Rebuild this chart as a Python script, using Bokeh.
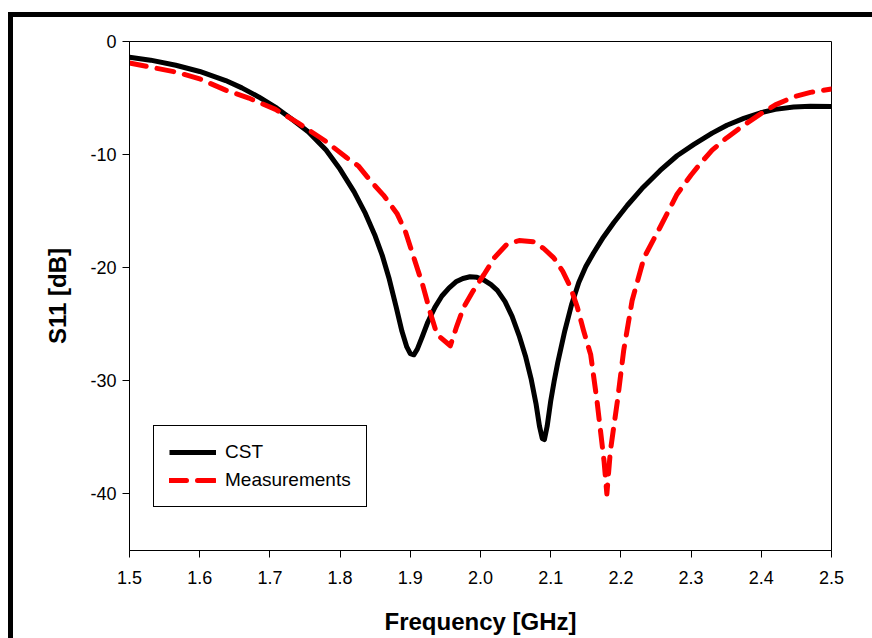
from bokeh.plotting import figure
from bokeh.models import Range1d, FixedTicker, PrintfTickFormatter, Legend, LegendItem
from bokeh.embed import file_html
from bokeh.resources import INLINE

# ---- data ----
freq_cst = [1.50, 1.53, 1.566, 1.60, 1.637, 1.66, 1.684, 1.71, 1.73, 1.755, 1.78, 1.80, 1.82, 1.836,
            1.85, 1.86, 1.87, 1.88, 1.888, 1.895, 1.90, 1.905, 1.91, 1.917, 1.925, 1.935, 1.945, 1.955,
            1.965, 1.975, 1.985, 1.995, 2.005, 2.015, 2.024, 2.035, 2.045, 2.055, 2.064, 2.072, 2.079,
            2.084, 2.088, 2.091, 2.095, 2.10, 2.105, 2.11, 2.12, 2.13, 2.14, 2.15, 2.161, 2.175, 2.19,
            2.209, 2.23, 2.256, 2.28, 2.304, 2.33, 2.351, 2.375, 2.399, 2.42, 2.446, 2.47, 2.50]
s11_cst = [-1.4, -1.65, -2.1, -2.65, -3.45, -4.1, -4.9, -5.9, -6.8, -8.0, -9.6, -11.3, -13.3, -15.2,
           -17.2, -18.9, -21.0, -23.5, -25.6, -27.0, -27.6, -27.7, -27.2, -26.1, -24.8, -23.5, -22.5, -21.8,
           -21.25, -20.95, -20.8, -20.85, -21.1, -21.5, -22.0, -23.0, -24.3, -26.0, -27.8, -29.8, -32.0,
           -34.0, -35.1, -35.2, -34.0, -31.8, -30.0, -28.4, -25.6, -23.2, -21.3, -19.9, -18.7, -17.3, -16.0,
           -14.5, -13.0, -11.4, -10.1, -9.1, -8.1, -7.4, -6.8, -6.3, -6.0, -5.8, -5.72, -5.75]

freq_meas = [1.50, 1.566, 1.60, 1.637, 1.67, 1.708, 1.74, 1.779, 1.81, 1.826, 1.843, 1.862, 1.881,
             1.893, 1.905, 1.918, 1.929, 1.938, 1.957, 1.966, 1.976, 1.99, 2.005, 2.02, 2.038, 2.055,
             2.076, 2.09, 2.104, 2.117, 2.128, 2.138, 2.147, 2.157, 2.166, 2.176, 2.180, 2.185, 2.195,
             2.204, 2.216, 2.233, 2.256, 2.280, 2.30, 2.313, 2.33, 2.351, 2.375, 2.399, 2.42, 2.446,
             2.47, 2.50]
s11_meas = [-1.9, -2.7, -3.3, -4.3, -5.0, -6.0, -7.2, -8.8, -10.3, -11.0, -12.3, -13.6, -15.2,
            -16.8, -19.1, -21.6, -24.1, -25.9, -26.9, -25.2, -23.5, -22.0, -20.6, -19.1, -17.9, -17.6,
            -17.7, -18.3, -19.1, -20.3, -21.7, -23.5, -25.6, -27.7, -31.8, -37.1, -40.0, -36.2, -31.8,
            -27.3, -22.9, -19.1, -16.4, -13.5, -11.8, -10.8, -9.6, -8.5, -7.4, -6.4, -5.6, -4.9,
            -4.5, -4.2]

x_ticks = [1.5, 1.6, 1.7, 1.8, 1.9, 2.0, 2.1, 2.2, 2.3, 2.4, 2.5]
y_ticks = [0, -10, -20, -30, -40]
series_names = ["CST", "Measurements"]

FONT = "Liberation Sans"

p = figure(width=872, height=638, output_backend="svg", toolbar_location=None,
           x_range=Range1d(1.5, 2.5), y_range=Range1d(-45, 0),
           min_border_left=129, min_border_right=41, min_border_top=41, min_border_bottom=88,
           background_fill_color="white", border_fill_color=None)
# thick outer frame of the whole figure: only its top and left edges fall inside the window
p.styles = {
    "background": ("linear-gradient(black, black) 8px 12px / 5px 100% no-repeat, "
                   "linear-gradient(black, black) 8px 12px / 100% 5px no-repeat, white"),
}
p.grid.visible = False
p.outline_line_color = "black"
p.outline_line_width = 1
p.outline_line_alpha = 1

for ax in (p.xaxis[0], p.yaxis[0]):
    ax.axis_line_color = "black"
    ax.axis_line_width = 1
    ax.major_tick_line_color = "black"
    ax.major_tick_out = 7
    ax.major_tick_in = 0
    ax.minor_tick_out = 0
    ax.minor_tick_in = 0
    ax.major_label_text_font = FONT
    ax.major_label_text_font_size = "18px"
    ax.major_label_text_color = "black"
    ax.axis_label_text_font = FONT
    ax.axis_label_text_font_size = "24px"
    ax.axis_label_text_font_style = "bold"
    ax.axis_label_text_color = "black"

p.xaxis.ticker = FixedTicker(ticks=x_ticks)
p.xaxis.formatter = PrintfTickFormatter(format="%.1f")
p.xaxis.axis_label = "Frequency [GHz]"
p.xaxis.major_label_standoff = 13
p.xaxis.axis_label_standoff = 21

p.yaxis.ticker = FixedTicker(ticks=y_ticks)
p.yaxis.formatter = PrintfTickFormatter(format="%d")
p.yaxis.axis_label = "S11 [dB]"
p.yaxis.major_label_standoff = 6
p.yaxis.axis_label_standoff = 16

r_cst = p.line(freq_cst, s11_cst, line_color="black", line_width=5, line_join="round")
r_meas = p.line(freq_meas, s11_meas, line_color="red", line_width=5, line_dash="17 11",
                line_cap="round", line_join="round")

legend = Legend(items=[LegendItem(label=series_names[0], renderers=[r_cst]),
                       LegendItem(label=series_names[1], renderers=[r_meas])],
                location=(24, 43), orientation="vertical",
                border_line_color="black", border_line_width=1, border_line_alpha=1,
                background_fill_color="white", background_fill_alpha=1,
                label_text_font=FONT, label_text_font_size="19px", label_text_color="black",
                glyph_width=47, glyph_height=20, label_height=20, label_standoff=9,
                spacing=6, padding=15, margin=0)
p.add_layout(legend, "center")

open("out.html", "w").write(file_html(p, INLINE))
